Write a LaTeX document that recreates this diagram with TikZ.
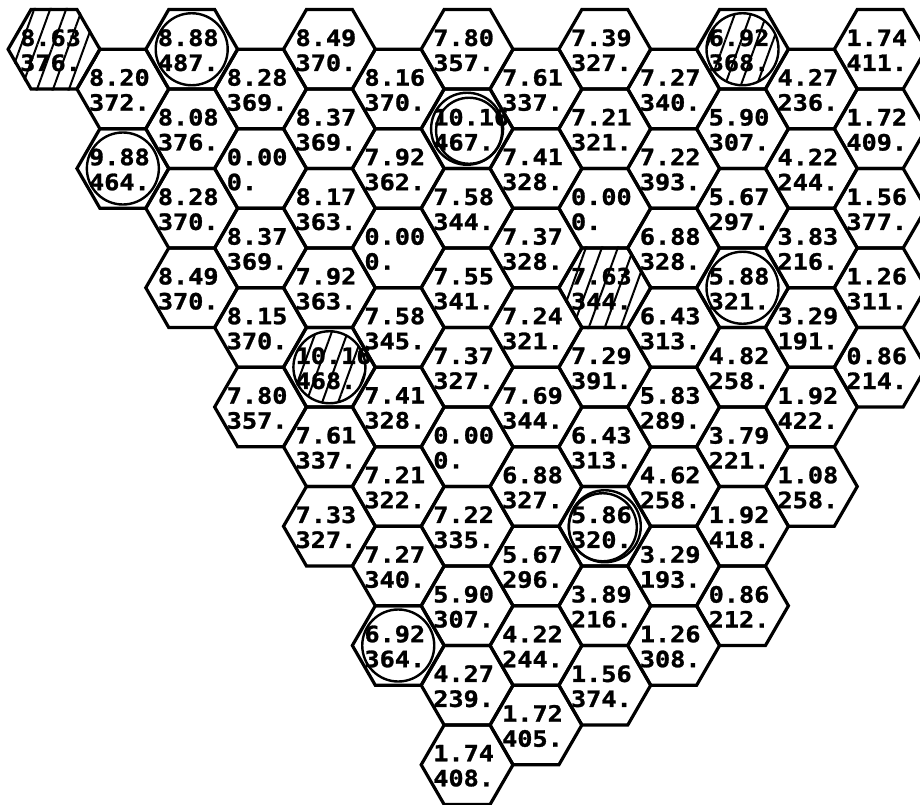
\documentclass[tikz,border=0pt]{standalone}
\usepackage{fontspec}
\newfontfamily\valfont[FakeStretch=1.12, FakeBold=1.2]{DejaVu Sans Mono}
\usetikzlibrary{shapes.geometric, patterns.meta}

\begin{document}
\begin{tikzpicture}[
    x=1pt, y=-1pt,
    cell/.style={regular polygon, regular polygon sides=6, draw=black, line width=3.2pt, minimum size=91.8pt, inner sep=0pt},
    val/.style={anchor=west, inner sep=0pt, align=left, font=\valfont\bfseries\fontsize{22.5}{25}\selectfont},
    hatch/.style={pattern={Lines[angle=70, distance=15pt, line width=2pt]}},
    ring/.style={draw=black, line width=2.4pt}
]
    \useasboundingbox (0,0) rectangle (920,805);

    % Cells: column / row / power / value
    \foreach \c/\r/\a/\b in {
        0/0/8.63/376.,
        1/0/8.20/372., 1/1/9.88/464.,
        2/0/8.88/487., 2/1/8.08/376., 2/2/8.28/370., 2/3/8.49/370.,
        3/0/8.28/369., 3/1/0.00/0., 3/2/8.37/369., 3/3/8.15/370., 3/4/7.80/357.,
        4/0/8.49/370., 4/1/8.37/369., 4/2/8.17/363., 4/3/7.92/363., 4/4/10.16/468., 4/5/7.61/337., 4/6/7.33/327.,
        5/0/8.16/370., 5/1/7.92/362., 5/2/0.00/0., 5/3/7.58/345., 5/4/7.41/328., 5/5/7.21/322., 5/6/7.27/340., 5/7/6.92/364.,
        6/0/7.80/357., 6/1/10.16/467., 6/2/7.58/344., 6/3/7.55/341., 6/4/7.37/327., 6/5/0.00/0., 6/6/7.22/335., 6/7/5.90/307., 6/8/4.27/239., 6/9/1.74/408.,
        7/0/7.61/337., 7/1/7.41/328., 7/2/7.37/328., 7/3/7.24/321., 7/4/7.69/344., 7/5/6.88/327., 7/6/5.67/296., 7/7/4.22/244., 7/8/1.72/405.,
        8/0/7.39/327., 8/1/7.21/321., 8/2/0.00/0., 8/3/7.63/344., 8/4/7.29/391., 8/5/6.43/313., 8/6/5.86/320., 8/7/3.89/216., 8/8/1.56/374.,
        9/0/7.27/340., 9/1/7.22/393., 9/2/6.88/328., 9/3/6.43/313., 9/4/5.83/289., 9/5/4.62/258., 9/6/3.29/193., 9/7/1.26/308.,
        10/0/6.92/368., 10/1/5.90/307., 10/2/5.67/297., 10/3/5.88/321., 10/4/4.82/258., 10/5/3.79/221., 10/6/1.92/418., 10/7/0.86/212.,
        11/0/4.27/236., 11/1/4.22/244., 11/2/3.83/216., 11/3/3.29/191., 11/4/1.92/422., 11/5/1.08/258.,
        12/0/1.74/411., 12/1/1.72/409., 12/2/1.56/377., 12/3/1.26/311., 12/4/0.86/214.}{
        \pgfmathsetmacro\cx{54+68.85*\c}
        \pgfmathsetmacro\cy{49.25+39.75*mod(\c,2)+79.5*\r}
        \node[cell] (cell-\c-\r) at (\cx,\cy) {};
        \node[val] (val-\c-\r) at ([xshift=-34pt, yshift=-1pt]cell-\c-\r.center) {\a\\\b};
    }

    % hatched cells
    \foreach \c/\r in {0/0, 8/3}
        \path[hatch] (cell-\c-\r.corner 1) -- (cell-\c-\r.corner 2) -- (cell-\c-\r.corner 3)
            -- (cell-\c-\r.corner 4) -- (cell-\c-\r.corner 5) -- (cell-\c-\r.corner 6) -- cycle;
    \foreach \c/\r in {4/4, 10/0}
        \path[hatch] (cell-\c-\r.center) circle[radius=36pt];

    % circled cells
    \foreach \c/\r in {1/1, 2/0, 4/4, 5/7, 6/1, 8/6, 10/0, 10/3}
        \draw[ring] (cell-\c-\r.center) circle[radius=36pt];
    \draw[ring] ([shift={(2,2)}]cell-6-1.center) circle[radius=33pt];
    \draw[ring] ([shift={(-2,1)}]cell-8-6.center) circle[radius=34pt];
\end{tikzpicture}
\end{document}
